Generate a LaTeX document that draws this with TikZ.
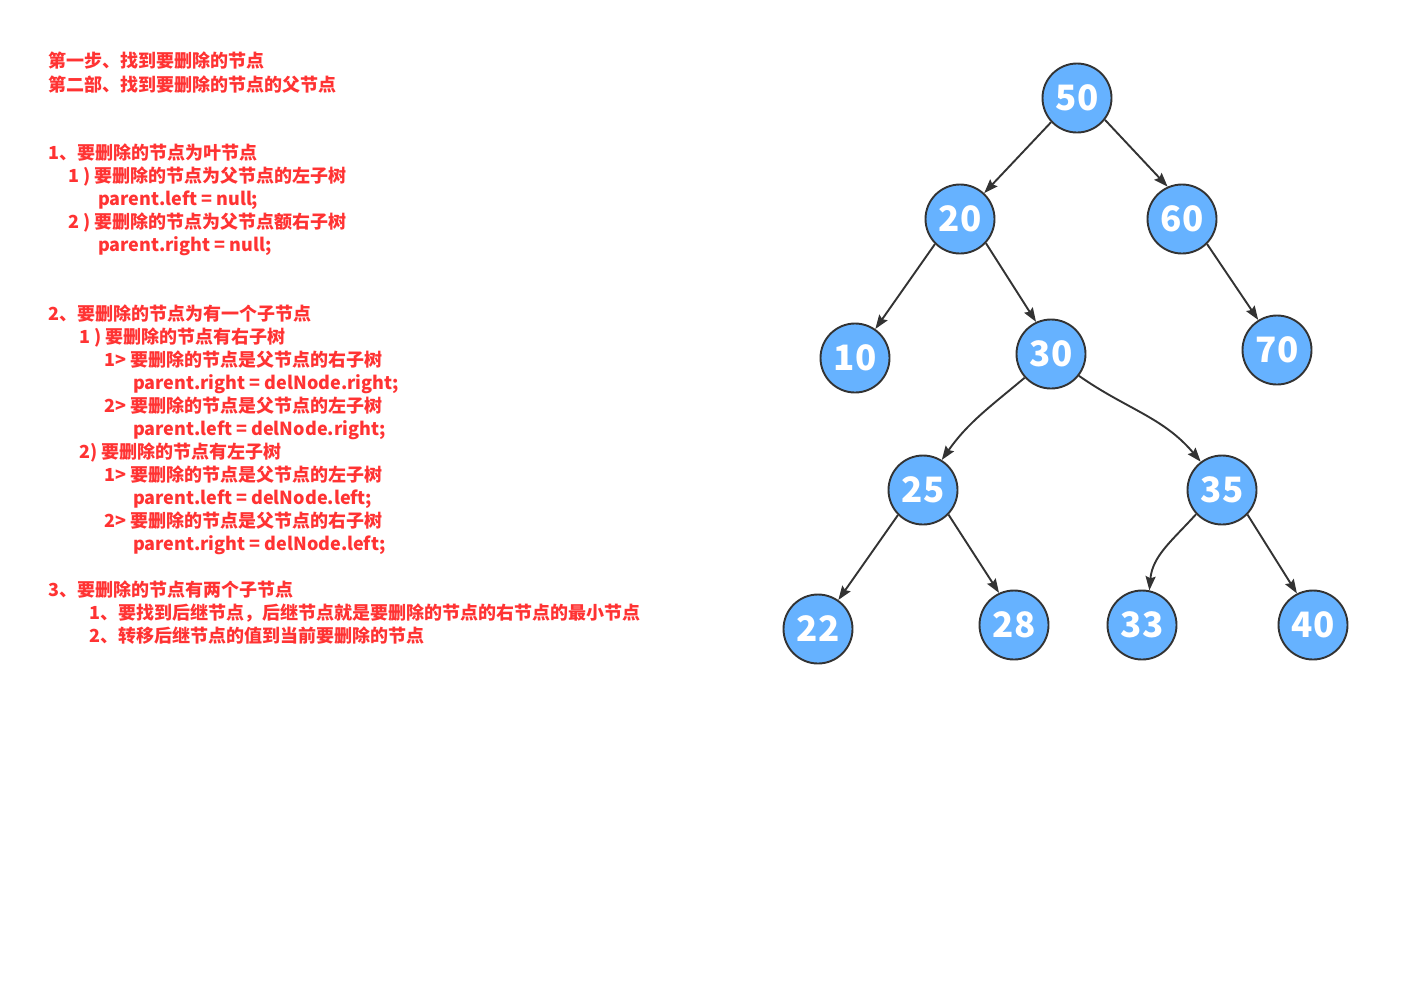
\documentclass[tikz,border=0pt]{standalone}
\usepackage{fontspec}
\newfontfamily\cjk{Noto Sans CJK SC}
\usetikzlibrary{arrows.meta}
\definecolor{txtred}{RGB}{255,51,51}
\definecolor{nodeblue}{RGB}{102,178,255}
\definecolor{edgegray}{RGB}{51,51,51}
\begin{document}
\begin{tikzpicture}[x=1pt,y=-1pt,
  note/.style={anchor=base west,inner sep=0pt,text=txtred,font=\cjk\bfseries\fontsize{18}{20}\selectfont},
  tnode/.style={circle,draw=edgegray,line width=1.9pt,fill=nodeblue,minimum size=69pt,inner sep=0pt,text=white,font=\cjk\bfseries\fontsize{35}{37}\selectfont},
  edge/.style={draw=edgegray,line width=1.9pt,-{Stealth[length=14pt,width=10pt,inset=2pt]}}]
\useasboundingbox (0,0) rectangle (1410,997);
\fill[white] (0,0) rectangle (1410,997);
% text
\node[note] (t1) at (48,67) {第一步、找到要删除的节点};
\node[note] (t2) at (48,91) {第二部、找到要删除的节点的父节点};
\node[note] (t3) at (48,159) {1、要删除的节点为叶节点};
\node[note] (t4) at (68,182) {1 ) 要删除的节点为父节点的左子树};
\node[note] (t5) at (98,205) {parent.left = null;};
\node[note] (t6) at (68,228) {2 ) 要删除的节点为父节点额右子树};
\node[note] (t7) at (98,251) {parent.right = null;};
\node[note] (t8) at (48,320) {2、要删除的节点为有一个子节点};
\node[note] (t9) at (79,343) {1 ) 要删除的节点有右子树};
\node[note] (t10) at (104,366) {1> 要删除的节点是父节点的右子树};
\node[note] (t11) at (133,389) {parent.right = delNode.right;};
\node[note] (t12) at (104,412) {2> 要删除的节点是父节点的左子树};
\node[note] (t13) at (133,435) {parent.left = delNode.right;};
\node[note] (t14) at (79,458) {2) 要删除的节点有左子树};
\node[note] (t15) at (104,481) {1> 要删除的节点是父节点的左子树};
\node[note] (t16) at (133,504) {parent.left = delNode.left;};
\node[note] (t17) at (104,527) {2> 要删除的节点是父节点的右子树};
\node[note] (t18) at (133,550) {parent.right = delNode.left;};
\node[note] (t19) at (48,596) {3、要删除的节点有两个子节点};
\node[note] (t20) at (89,619) {1、要找到后继节点，后继节点就是要删除的节点的右节点的最小节点};
\node[note] (t21) at (89,642) {2、转移后继节点的值到当前要删除的节点};
% tree
\node[tnode] (n50) at (1077,98) {50};
\node[tnode] (n20) at (960,219) {20};
\node[tnode] (n60) at (1182,219) {60};
\node[tnode] (n10) at (855,358) {10};
\node[tnode] (n30) at (1051,354) {30};
\node[tnode] (n70) at (1277,350) {70};
\node[tnode] (n25) at (923,490) {25};
\node[tnode] (n35) at (1222,490) {35};
\node[tnode] (n22) at (818,629) {22};
\node[tnode] (n28) at (1014,625) {28};
\node[tnode] (n33) at (1142,625) {33};
\node[tnode] (n40) at (1313,625) {40};
\draw[edge] (n50.223) -- (n20.47);
\draw[edge] (n50.-38) -- (n60.114);
\draw[edge] (n20.225) -- (n10.55);
\draw[edge] (n20.-43) -- (n30.115);
\draw[edge] (n60.-45) -- (n70.122);
\draw[edge] (n25.225) -- (n22.55);
\draw[edge] (n25.-44) -- (n28.115);
\draw[edge] (n35.-44) -- (n40.117);
\draw[edge] (n30.222) to[out=220,in=55] (n25.58);
\draw[edge] (n30.-38) to[out=-35,in=130] (n35.127);
\draw[edge] (n35.223) to[out=228,in=85] (n33.78);
\end{tikzpicture}
\end{document}
